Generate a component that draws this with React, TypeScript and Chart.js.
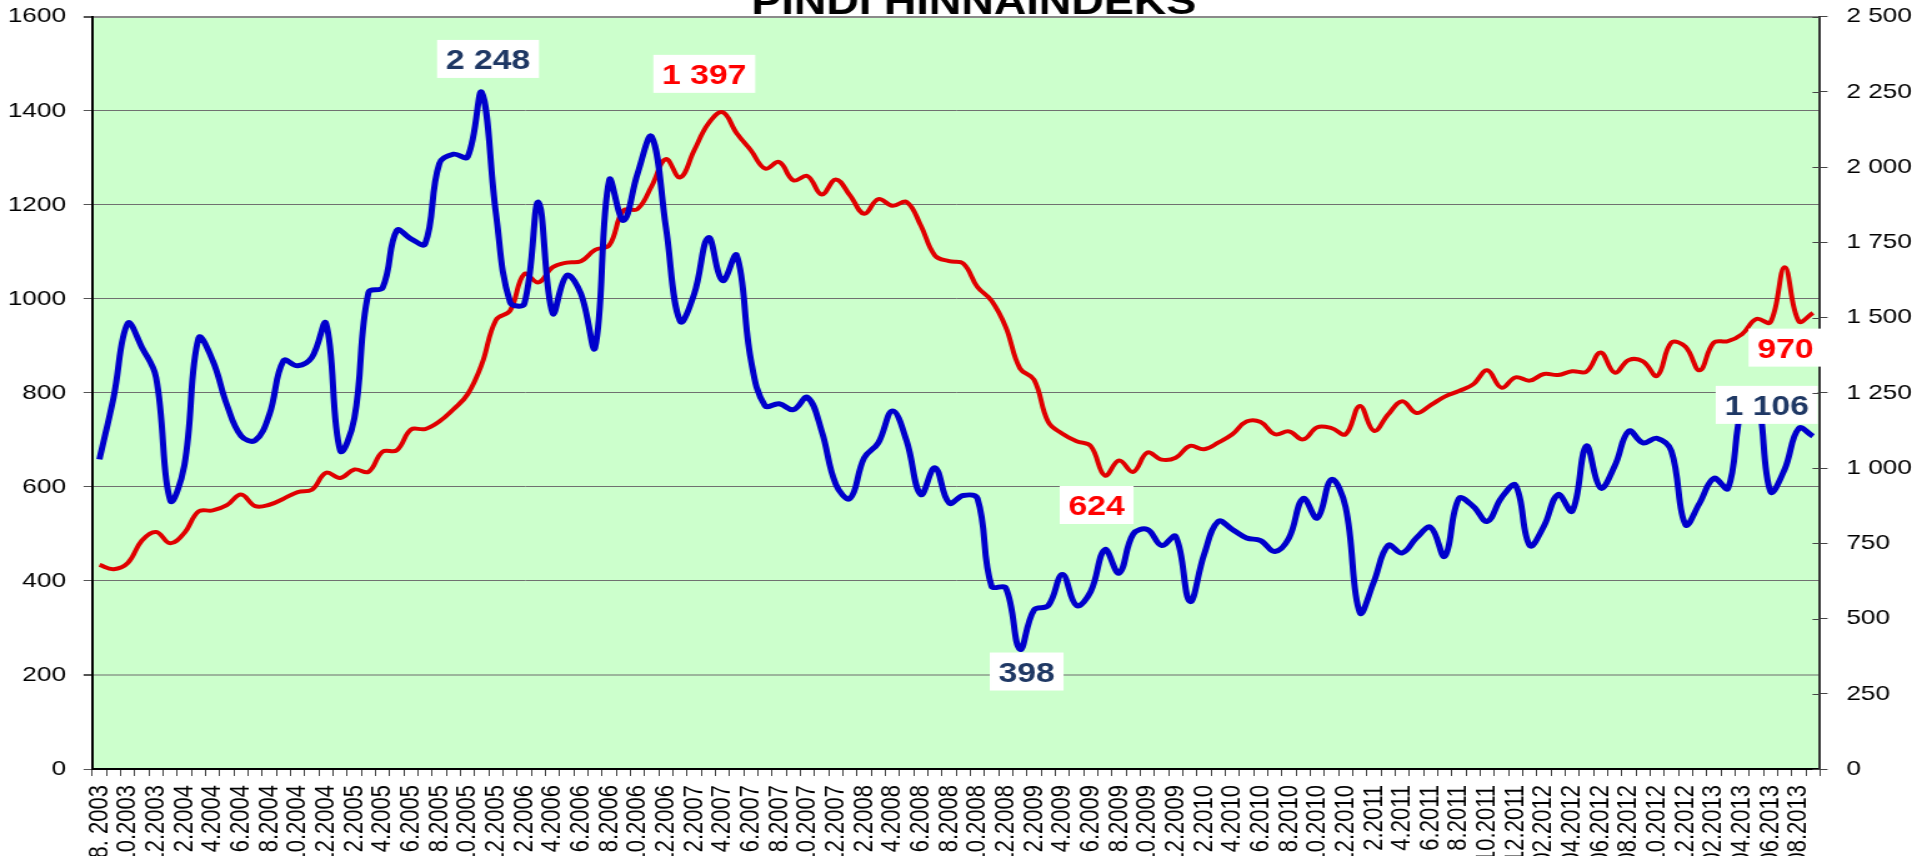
import React, { useEffect, useRef } from 'react';
import { Chart, registerables } from 'chart.js';

Chart.register(...registerables);

const FONT = '"Liberation Sans", Arial, Helvetica, sans-serif';
const CANVAS_W = 1534;
const CANVAS_H = 856;
const STRETCH_X = 1917 / CANVAS_W;

const RED = '#e00000';
const BLUE = '#0000cc';
const LABEL_RED = '#ff0000';
const NAVY = '#1f3864';

const chartTitle = 'PINDI HINNAINDEKS';

// every second month carries a tick label
const tickLabels = [
  '8. 2003', '10.2003', '12.2003', '2.2004', '4.2004', '6.2004', '8.2004', '10.2004', '12.2004',
  '2.2005', '4.2005', '6.2005', '8.2005', '10.2005', '12.2005', '2.2006', '4.2006', '6.2006',
  '8.2006', '10.2006', '12.2006', '2.2007', '4.2007', '6.2007', '8.2007', '10.2007', '12.2007',
  '2.2008', '4.2008', '6.2008', '8.2008', '10.2008', '12.2008', '2.2009', '4.2009', '6.2009',
  '8.2009', '10.2009', '12.2009', '2.2010', '4.2010', '6.2010', '8.2010', '10.2010', '12.2010',
  '2.2011', '4.2011', '6.2011', '8.2011', '10.2011', '12.2011', '02.2012', '04.2012', '06.2012',
  '08.2012', '10.2012', '12.2012', '02.2013', '04.2013', '06.2013', '08.2013',
];
// monthly categories (labelled month followed by an unlabelled month)
const months = tickLabels.flatMap((l) => [l, '']);

// red line, left axis
const priceIndex = [
  434, 425, 438, 486, 504, 480, 502, 548, 550, 561,
  584, 559, 562, 575, 589, 594, 630, 619, 637, 632,
  675, 678, 722, 723, 739, 765, 797, 861, 955, 975,
  1053, 1035, 1067, 1077, 1080, 1104, 1114, 1188, 1191, 1240,
  1297, 1258, 1316, 1373, 1397, 1352, 1316, 1277, 1291, 1252,
  1261, 1222, 1254, 1220, 1181, 1212, 1198, 1206, 1156, 1092,
  1080, 1075, 1025, 996, 940, 852, 828, 738, 713, 697,
  687, 624, 656, 632, 673, 658, 662, 687, 680, 694,
  712, 739, 738, 712, 718, 701, 727, 725, 712, 772,
  719, 754, 782, 757, 774, 792, 804, 818, 848, 811,
  833, 826, 840, 838, 846, 845, 886, 843, 870, 867,
  836, 907, 898, 848, 907, 910, 925, 957, 950, 1067,
  952, 970,
];

// blue line, right axis
const dealCount = [
  1029, 1235, 1481, 1401, 1301, 893, 1010, 1432, 1357, 1210,
  1107, 1092, 1178, 1357, 1340, 1368, 1480, 1059, 1165, 1584,
  1600, 1790, 1762, 1745, 2012, 2043, 2034, 2248, 1846, 1551,
  1546, 1884, 1515, 1640, 1579, 1401, 1957, 1823, 1979, 2101,
  1801, 1488, 1579, 1766, 1623, 1707, 1360, 1207, 1214, 1194,
  1235, 1123, 946, 899, 1034, 1084, 1190, 1090, 912, 1001,
  884, 909, 899, 607, 602, 398, 529, 543, 646, 543,
  590, 729, 651, 781, 796, 743, 773, 557, 712, 823,
  796, 768, 759, 723, 768, 899, 834, 962, 870, 520,
  623, 743, 718, 768, 803, 707, 899, 873, 823, 901,
  943, 743, 807, 912, 857, 1073, 934, 1007, 1123, 1084,
  1099, 1057, 812, 884, 966, 932, 1205, 1250, 922, 996,
  1132, 1106,
];

const leftAxis = { min: 0, max: 1600, step: 200 };
const rightAxis = { min: 0, max: 2500, step: 250 };

// highlighted values: series (0 = red, 1 = blue), month index, colour, box offset from the point
const valueLabels = [
  { series: 1, index: 27, color: NAVY, dx: 5, dy: -33.6 },
  { series: 0, index: 44, color: LABEL_RED, dx: -14.6, dy: -38.3 },
  { series: 0, index: 71, color: LABEL_RED, dx: -6.6, dy: 29.4 },
  { series: 1, index: 65, color: NAVY, dx: 5.4, dy: 22.3 },
  { series: 0, index: 121, color: LABEL_RED, dx: -22, dy: 34.7 },
  { series: 1, index: 121, color: NAVY, dx: -37, dy: -31.3 },
];

const spaced = (v: number) => String(Math.round(v)).replace(/\B(?=(\d{3})+(?!\d))/g, ' ');

const plotBackground = {
  id: 'plotBackground',
  beforeDraw(chart: any) {
    const { ctx, chartArea } = chart;
    ctx.save();
    ctx.fillStyle = '#ccffcc';
    ctx.fillRect(chartArea.left, chartArea.top, chartArea.right - chartArea.left, chartArea.bottom - chartArea.top);
    ctx.restore();
  },
};

const rightInnerTicks = {
  id: 'rightInnerTicks',
  afterDraw(chart: any) {
    const s = chart.scales.y1;
    const { ctx, chartArea } = chart;
    ctx.save();
    ctx.strokeStyle = '#444';
    ctx.lineWidth = 1;
    s.ticks.forEach((t: any) => {
      const y = Math.round(s.getPixelForValue(t.value)) + 0.5;
      ctx.beginPath();
      ctx.moveTo(chartArea.right - 6, y);
      ctx.lineTo(chartArea.right, y);
      ctx.stroke();
    });
    ctx.restore();
  },
};

const valueLabelPlugin = {
  id: 'valueLabels',
  afterDatasetsDraw(chart: any) {
    const { ctx } = chart;
    ctx.save();
    ctx.font = `bold 27px ${FONT}`;
    ctx.textAlign = 'center';
    ctx.textBaseline = 'alphabetic';
    valueLabels.forEach((a) => {
      const pt = chart.getDatasetMeta(a.series).data[a.index];
      const value = chart.data.datasets[a.series].data[a.index] as number;
      const text = spaced(value);
      const cx = pt.x + a.dx;
      const cy = pt.y + a.dy;
      const w = ctx.measureText(text).width + 14;
      const h = 38;
      ctx.fillStyle = '#ffffff';
      ctx.fillRect(cx - w / 2, cy - h / 2, w, h);
      ctx.fillStyle = a.color;
      ctx.fillText(text, cx, cy + 10);
    });
    ctx.restore();
  },
};

const titlePlugin = {
  id: 'cutTitle',
  afterDraw(chart: any) {
    const { ctx, chartArea } = chart;
    ctx.save();
    ctx.font = `bold 36px ${FONT}`;
    ctx.fillStyle = '#000';
    ctx.textAlign = 'center';
    ctx.textBaseline = 'alphabetic';
    ctx.fillText(chartTitle, (chartArea.left + chartArea.right) / 2 + 14, 13.5);
    ctx.restore();
  },
};

const noVerticalPadding = (s: any) => {
  s.paddingTop = 0;
  s.paddingBottom = 0;
};

export default function App() {
  const ref = useRef<HTMLCanvasElement>(null);

  useEffect(() => {
    const canvas = ref.current;
    if (!canvas) return;
    const chart = new Chart(canvas, {
      type: 'line',
      data: {
        labels: months,
        datasets: [
          {
            label: 'Hinnaindeks',
            data: priceIndex,
            yAxisID: 'y',
            borderColor: RED,
            backgroundColor: RED,
            borderWidth: 4,
            pointRadius: 0,
            tension: 0.4,
            fill: false,
            order: 1,
          },
          {
            label: 'Tehingud',
            data: dealCount,
            yAxisID: 'y1',
            borderColor: BLUE,
            backgroundColor: BLUE,
            borderWidth: 5,
            pointRadius: 0,
            tension: 0.4,
            fill: false,
            order: 0,
          },
        ],
      },
      options: {
        responsive: false,
        animation: false,
        devicePixelRatio: 1,
        events: [],
        layout: { padding: { top: 16.7, left: 0, right: 0, bottom: 0 } },
        plugins: {
          legend: { display: false },
          title: { display: false },
          tooltip: { enabled: false },
        },
        scales: {
          x: {
            type: 'category',
            offset: true,
            afterFit: (s: any) => {
              s.height = 87;
            },
            grid: {
              offset: true,
              drawOnChartArea: false,
              drawTicks: true,
              tickLength: 7,
              color: '#444',
              lineWidth: 1,
            },
            border: { display: true, color: '#000', width: 2 },
            ticks: {
              autoSkip: false,
              maxRotation: 90,
              minRotation: 90,
              padding: 9,
              color: '#000',
              font: { family: FONT, size: 22 },
            },
          },
          y: {
            type: 'linear',
            position: 'left',
            min: leftAxis.min,
            max: leftAxis.max,
            afterFit: (s: any) => {
              s.width = 73.9;
              noVerticalPadding(s);
            },
            grid: {
              drawOnChartArea: true,
              drawTicks: true,
              tickLength: 7,
              tickColor: '#555',
              color: (c: any) =>
                c.tick && c.tick.value === 200 ? '#9cb59c' : c.tick && c.tick.value === 1600 ? '#8a8a8a' : '#707070',
              lineWidth: (c: any) => (c.tick && (c.tick.value === 200 || c.tick.value === 1600) ? 2 : 1),
            },
            border: { display: true, color: '#000', width: 2 },
            ticks: {
              stepSize: leftAxis.step,
              padding: 14,
              color: '#000',
              font: { family: FONT, size: 21 },
              callback: (v: any) => String(v),
            },
          },
          y1: {
            type: 'linear',
            position: 'right',
            min: rightAxis.min,
            max: rightAxis.max,
            afterFit: (s: any) => {
              s.width = CANVAS_W - 1456.4;
              noVerticalPadding(s);
            },
            grid: {
              drawOnChartArea: false,
              drawTicks: true,
              tickLength: 6,
              color: '#444',
              lineWidth: 1,
            },
            border: { display: true, color: '#333', width: 2 },
            ticks: {
              stepSize: rightAxis.step,
              padding: 15,
              color: '#000',
              font: { family: FONT, size: 21 },
              callback: (v: any) => spaced(Number(v)),
            },
          },
        },
      } as any,
      plugins: [plotBackground, valueLabelPlugin, rightInnerTicks, titlePlugin],
    });
    return () => chart.destroy();
  }, []);

  return (
    <div
      style={{
        position: 'fixed',
        left: 0,
        top: 0,
        width: 1917,
        height: 856,
        overflow: 'hidden',
        background: '#ffffff',
      }}
    >
      <canvas
        ref={ref}
        width={CANVAS_W}
        height={CANVAS_H}
        style={{
          display: 'block',
          width: CANVAS_W,
          height: CANVAS_H,
          transform: `scaleX(${STRETCH_X})`,
          transformOrigin: '0 0',
        }}
      />
    </div>
  );
}
